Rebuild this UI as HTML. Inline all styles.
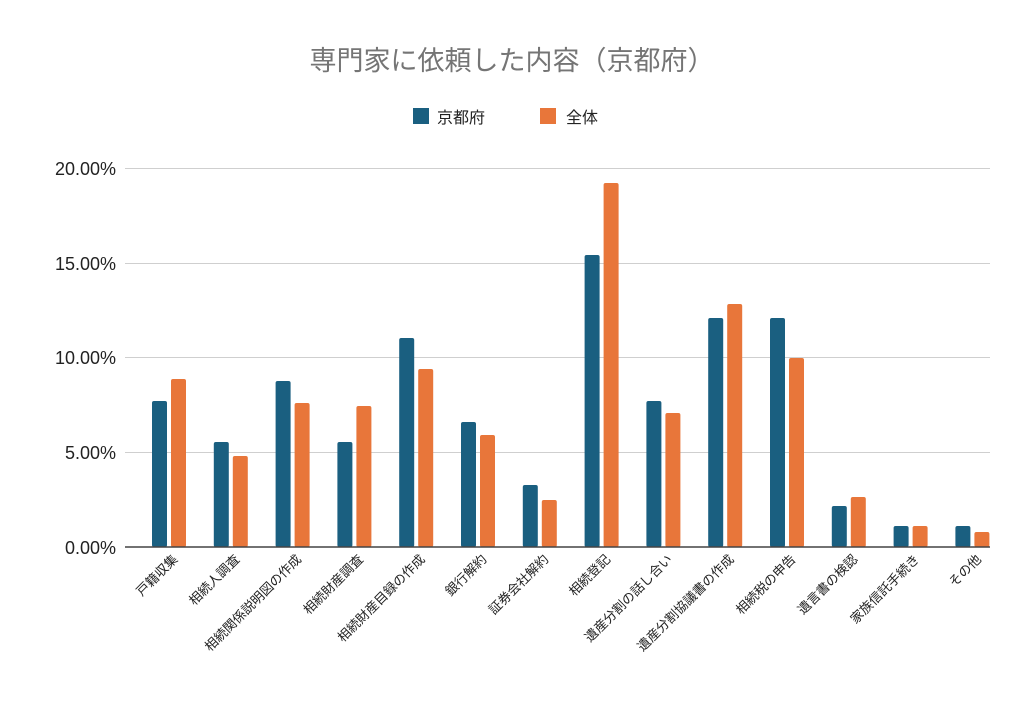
<!DOCTYPE html>
<html><head><meta charset="utf-8"><style>body{margin:0;background:#fff}svg{display:block}</style></head><body>
<svg width="1024" height="705" xmlns="http://www.w3.org/2000/svg" font-family="'Liberation Sans','Noto Sans CJK JP',sans-serif">
<text x="512" y="70" text-anchor="middle" font-size="27" fill="#757575">専門家に依頼した内容（京都府）</text>
<rect x="413" y="108" width="16" height="16" fill="#1a5f80"/>
<text x="437" y="123" font-size="16" fill="#222">京都府</text>
<rect x="540" y="108" width="16" height="16" fill="#e8763a"/>
<text x="566" y="123" font-size="16" fill="#222">全体</text>
<g stroke="#cfcfcf" stroke-width="1">
<line x1="125" x2="990" y1="168.5" y2="168.5"/><line x1="125" x2="990" y1="263.5" y2="263.5"/><line x1="125" x2="990" y1="357.5" y2="357.5"/><line x1="125" x2="990" y1="452.5" y2="452.5"/>
</g>
<g font-size="18" fill="#222" text-anchor="end">
<text x="116" y="175">20.00%</text><text x="116" y="270">15.00%</text><text x="116" y="364">10.00%</text><text x="116" y="459">5.00%</text><text x="116" y="554">0.00%</text>
</g>
<g fill="#1a5f80">
<rect x="152" y="401" width="15" height="146" rx="2"/>
<rect x="213.8" y="442" width="15" height="105" rx="2"/>
<rect x="275.6" y="381" width="15" height="166" rx="2"/>
<rect x="337.4" y="442" width="15" height="105" rx="2"/>
<rect x="399.2" y="338" width="15" height="209" rx="2"/>
<rect x="461" y="422" width="15" height="125" rx="2"/>
<rect x="522.8" y="485" width="15" height="62" rx="2"/>
<rect x="584.6" y="255" width="15" height="292" rx="2"/>
<rect x="646.4" y="401" width="15" height="146" rx="2"/>
<rect x="708.2" y="318" width="15" height="229" rx="2"/>
<rect x="770" y="318" width="15" height="229" rx="2"/>
<rect x="831.8" y="506" width="15" height="41" rx="2"/>
<rect x="893.6" y="526" width="15" height="21" rx="2"/>
<rect x="955.4" y="526" width="15" height="21" rx="2"/>
</g>
<g fill="#e8763a">
<rect x="171" y="379" width="15" height="168" rx="2"/>
<rect x="232.8" y="456" width="15" height="91" rx="2"/>
<rect x="294.6" y="403" width="15" height="144" rx="2"/>
<rect x="356.4" y="406" width="15" height="141" rx="2"/>
<rect x="418.2" y="369" width="15" height="178" rx="2"/>
<rect x="480" y="435" width="15" height="112" rx="2"/>
<rect x="541.8" y="500" width="15" height="47" rx="2"/>
<rect x="603.6" y="183" width="15" height="364" rx="2"/>
<rect x="665.4" y="413" width="15" height="134" rx="2"/>
<rect x="727.2" y="304" width="15" height="243" rx="2"/>
<rect x="789" y="358" width="15" height="189" rx="2"/>
<rect x="850.8" y="497" width="15" height="50" rx="2"/>
<rect x="912.6" y="526" width="15" height="21" rx="2"/>
<rect x="974.4" y="532" width="15" height="15" rx="2"/>
</g>
<line x1="125" x2="990" y1="547" y2="547" stroke="#444" stroke-width="1.5"/>
<g font-size="13" fill="#222" text-anchor="end">
<text x="178.5" y="560" transform="rotate(-45 178.5 560)">戸籍収集</text>
<text x="240.3" y="560" transform="rotate(-45 240.3 560)">相続人調査</text>
<text x="302.1" y="560" transform="rotate(-45 302.1 560)">相続関係説明図の作成</text>
<text x="363.9" y="560" transform="rotate(-45 363.9 560)">相続財産調査</text>
<text x="425.7" y="560" transform="rotate(-45 425.7 560)">相続財産目録の作成</text>
<text x="487.5" y="560" transform="rotate(-45 487.5 560)">銀行解約</text>
<text x="549.3" y="560" transform="rotate(-45 549.3 560)">証券会社解約</text>
<text x="611.1" y="560" transform="rotate(-45 611.1 560)">相続登記</text>
<text x="672.9" y="560" transform="rotate(-45 672.9 560)">遺産分割の話し合い</text>
<text x="734.7" y="560" transform="rotate(-45 734.7 560)">遺産分割協議書の作成</text>
<text x="796.5" y="560" transform="rotate(-45 796.5 560)">相続税の申告</text>
<text x="858.3" y="560" transform="rotate(-45 858.3 560)">遺言書の検認</text>
<text x="920.1" y="560" transform="rotate(-45 920.1 560)">家族信託手続き</text>
<text x="981.9" y="560" transform="rotate(-45 981.9 560)">その他</text>
</g>
</svg>
</body></html>
